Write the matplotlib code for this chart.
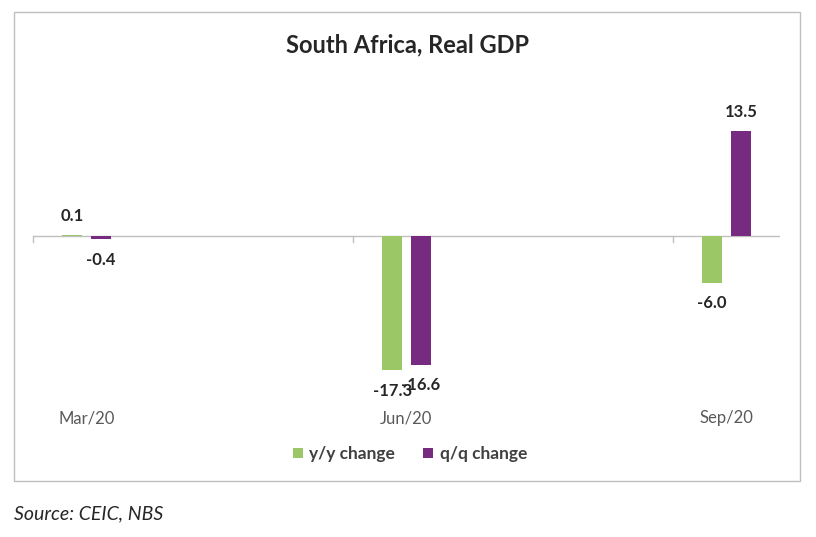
import matplotlib
matplotlib.use("Agg")
import matplotlib.pyplot as plt
from matplotlib.patches import Rectangle
import matplotlib.transforms as mtransforms

plt.rcParams['font.family'] = ['Lato', 'DejaVu Sans']

# Data
categories = ["Mar/20", "Jun/20", "Sep/20"]
month_index = [0, 3, 6]          # date axis: months since Mar/20
yy_change = [0.1, -17.3, -6.0]
qq_change = [-0.4, -16.6, 13.5]
series_names = ["y/y change", "q/q change"]
colors = ["#9CC766", "#772B80"]

W, H = 816, 537
fig = plt.figure(figsize=(W / 100, H / 100), dpi=100)

# outer border
fig.patches.append(Rectangle((14 / W, 1 - 481 / H), (800 - 14) / W, (481 - 12) / H,
                             transform=fig.transFigure, fill=False,
                             edgecolor="#BFBFBF", linewidth=1.0))

left, right = 33 / W, 780 / W
top, bottom = 1 - 81 / H, 1 - 391 / H
ax = fig.add_axes([left, bottom, right - left, top - bottom])
ax.set_xlim(-0.5, 6.5)
ax.set_ylim(-20, 20)

bw = 0.19
off = 0.135
xs_y = [m - off for m in month_index]
xs_q = [m + off for m in month_index]
ax.bar(xs_y, yy_change, width=bw, color=colors[0], label=series_names[0], zorder=3)
ax.bar(xs_q, qq_change, width=bw, color=colors[1], label=series_names[1], zorder=3)

# data labels
for xs, vals in ((xs_y, yy_change), (xs_q, qq_change)):
    for x, v in zip(xs, vals):
        dy = 14 if v >= 0 else -15
        ax.annotate(f"{v:.1f}", (x, v), xytext=(0, dy), textcoords="offset points",
                    ha="center", va="center", fontsize=12, fontweight="bold",
                    color="#262626", zorder=4)

# axes styling
for s in ax.spines.values():
    s.set_visible(False)
ax.set_yticks([])
ax.set_xticks([])
ax.axhline(0, color="#BFBFBF", linewidth=1.0, zorder=2)
# tick marks at the start of each labelled quarter
for m in month_index:
    ax.plot([m - 0.5, m - 0.5], [0, -0.75], color="#BFBFBF", linewidth=1.0, zorder=2,
            clip_on=False)
# category labels
tl = mtransforms.blended_transform_factory(ax.transData, fig.transFigure)
for m, c in zip(month_index, categories):
    ax.text(m, 1 - 418 / H, c, transform=tl, ha="center", va="center",
            fontsize=12, color="#595959")

fig.text(407 / W, 1 - 45 / H, "South Africa, Real GDP", ha="center", va="center",
         fontsize=17, fontweight="bold", color="#262626")

leg = fig.legend(loc="center", bbox_to_anchor=(410 / W, 1 - 454 / H), ncol=2,
                 frameon=False, fontsize=12.5, handlelength=0.55, handleheight=0.55,
                 handletextpad=0.4, columnspacing=1.6)
for t in leg.get_texts():
    t.set_fontweight("bold")
    t.set_color("#404040")

fig.text(14 / W, 1 - 514 / H, "Source: CEIC, NBS", ha="left", va="center",
         fontsize=14, fontstyle="italic", color="#262626")

fig.savefig("out.png", dpi=100)
